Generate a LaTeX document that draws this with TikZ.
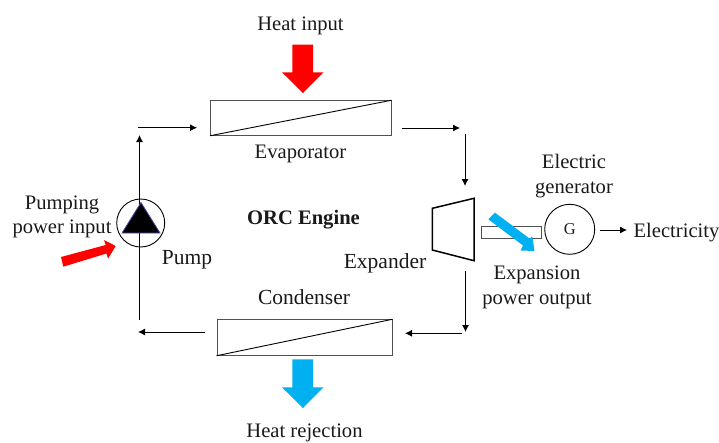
\documentclass[tikz,border=0pt]{standalone}
\usepackage{fontspec}
\setmainfont{Liberation Serif}
\usetikzlibrary{arrows.meta}
\definecolor{coldblue}{RGB}{0,176,240}
\definecolor{boxgray}{RGB}{80,80,80}
\tikzset{
  x=1pt,y=-1pt,
  lab/.style={inner sep=0pt,font=\fontsize{20.6}{24.5}\selectfont,align=center,text=black!90},
  hx/.style={draw=boxgray,line width=1pt,fill=white,inner sep=0pt,minimum width=#1,minimum height=34.5pt},
  flow/.style={draw=black,line width=0.9pt,-{Latex[length=7pt,width=7pt]}},
  plain/.style={draw=black,line width=0.9pt},
  bigarrow/.style={fill=#1,draw=none},
  round1/.style={draw=black,line width=0.9pt,circle,inner sep=0pt,minimum size=#1}
}
\begin{document}
\begin{tikzpicture}
\useasboundingbox (0,0) rectangle (719,442);
% heat exchangers
\node[hx=180.5pt] (evap) at (300.75,118) {};
\node[hx=175pt,minimum height=35.5pt] (cond) at (304.5,337.5) {};
\draw[plain] (evap.south west) -- (evap.north east);
\draw[plain] (cond.south west) -- (cond.north east);
% pump
\coordinate (pumpc) at (140.7,223);
\coordinate (pumpb) at (139.5,320);
\coordinate (pumpt) at (139.5,135);
\draw[flow] (pumpb) -- (pumpt);
\node[round1=48pt] (pump) at (pumpc) {};
\path[fill=black,draw=black!50!blue!70!white,line width=0.8pt] (141,202.5) -- (160,233) -- (122,233) -- cycle;
% expander
\coordinate (e1) at (432.3,208.3);
\coordinate (e2) at (474,198.3);
\coordinate (e3) at (474,260.7);
\coordinate (e4) at (432.3,250);
\draw[draw=black,line width=1.5pt] (e1) -- (e2) -- (e3) -- (e4) -- cycle;
% shaft + generator
\node[draw=boxgray,line width=1pt,inner sep=0pt,minimum width=60pt,minimum height=12.3pt] (shaft) at (511.7,232.2) {};
\node[round1=50pt,lab] (gen) at (569.7,229.3) {\fontsize{16.5}{18}\selectfont G};
% flow connectors
\coordinate (a1) at (138,127.7);
\coordinate (a2) at (197,127.7);
\coordinate (b1) at (401.7,128);
\coordinate (b2) at (460,128);
\coordinate (c1) at (465,134);
\coordinate (c2) at (465,186);
\coordinate (d1) at (465.5,271);
\coordinate (d2) at (465.5,332);
\coordinate (f1) at (461.5,333.3);
\coordinate (f2) at (405,333.3);
\coordinate (g1) at (205,332);
\coordinate (g2) at (138,332);
\coordinate (h1) at (599.5,230);
\coordinate (h2) at (627,230);
\draw[flow] (a1) -- (a2);
\draw[flow] (b1) -- (b2);
\draw[flow] (c1) -- (c2);
\draw[flow] (d1) -- (d2);
\draw[flow] (f1) -- (f2);
\draw[flow] (g1) -- (g2);
\draw[flow] (h1) -- (h2);
% big arrows
\path[bigarrow=red] (292.3,44.7) -- (313,44.7) -- (313,72.3) -- (323.5,72.3) -- (303,93) -- (282,72.3) -- (292.3,72.3) -- cycle;
\path[bigarrow=coldblue] (292.3,359.3) -- (313,359.3) -- (313,387.3) -- (323.5,387.3) -- (303,408) -- (282,387.3) -- (292.3,387.3) -- cycle;
\path[bigarrow=red] (61,257) -- (105.7,245) -- (104,240) -- (115.7,246) -- (108,258.7) -- (106.5,253.5) -- (63.3,266.7) -- cycle;
\path[bigarrow=coldblue] (488.3,219.3) -- (495,212.7) -- (529.5,238.5) -- (532.3,236.5) -- (534.5,251) -- (520.5,250.5) -- (523,245.5) -- cycle;
% labels
\node[lab] (heatin) at (300.5,25.5) {Heat input};
\node[lab] (evapl) at (300.5,154) {Evaporator};
\node[lab,font=\fontsize{21.5}{24.5}\selectfont] (condl) at (304,297) {Condenser};
\node[lab] (heatrej) at (304.5,433) {Heat rejection};
\node[lab] (ppi) at (62,217) {Pumping\\power input};
\node[lab,font=\fontsize{21.5}{24.5}\selectfont] (pumpl) at (187,260) {Pump};
\node[lab,font=\fontsize{20.6}{24}\selectfont\bfseries] (orc) at (303.5,220) {ORC Engine};
\node[lab,font=\fontsize{21.5}{24.5}\selectfont] (expl) at (385,263) {Expander};
\node[lab] (egen) at (574,176) {Electric\\generator};
\node[lab] (elec) at (676.5,232.5) {Electricity};
\node[lab] (epo) at (537,287.5) {Expansion\\power output};
\end{tikzpicture}
\end{document}
